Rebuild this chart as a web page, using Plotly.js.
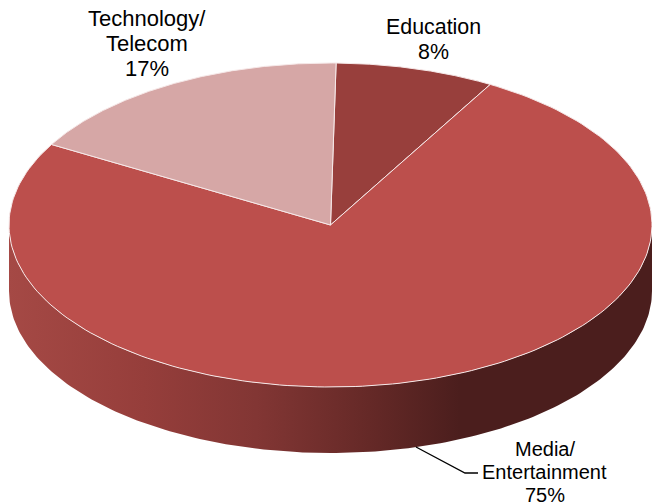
<!DOCTYPE html>
<html>
<head>
<meta charset="utf-8">
<script src="https://cdn.plot.ly/plotly-3.0.1.min.js"></script>
<style>html,body{margin:0;padding:0;background:#fff}#chart{width:652px;height:503px}</style>
</head>
<body>
<div id="chart"></div>
<script>
const categories = ['Education', 'Media/Entertainment', 'Technology/Telecom'];
const shares = [8, 75, 17];
const sliceColors = ['#983F3C', '#BC4F4C', '#D6A7A6'];
const labelLines = [['Education', '8%'], ['Media/', 'Entertainment', '75%'], ['Technology/', 'Telecom', '17%']];

// Projection of the tilted pie, in the axis units of the page
const cx = 330.5, cy = 225, rx = 321.5, ry = 162, depth = 66, firstAngle = 1;
const labelX = [433, 544.5, 147], labelY = [27, 449, 18], lineGap = [25, 23, 25], labelSize = [21.4, 20, 22];
const point = (deg, drop) => {
  const a = deg * Math.PI / 180;
  return [cx + rx * Math.sin(a), cy - ry * Math.cos(a) + (drop || 0)];
};

const total = shares.reduce((s, v) => s + v, 0);
const traces = [];

// Side wall: front half of the rim, extruded down
const wx = [], wy = [];
for (let d = 90; d <= 270; d++) { const p = point(d); wx.push(p[0]); wy.push(p[1]); }
for (let d = 270; d >= 90; d--) { const p = point(d, depth); wx.push(p[0]); wy.push(p[1]); }
traces.push({
  x: wx, y: wy, type: 'scatter', mode: 'lines', fill: 'toself', hoverinfo: 'skip',
  line: {width: 0, color: 'rgba(0,0,0,0)'},
  fillgradient: {
    type: 'horizontal', start: 8, stop: 460,
    colorscale: [[0, '#A54945'], [0.3, '#963E3B'], [0.55, '#823634'], [0.8, '#652927'], [1, '#4B1E1D']]
  }
});

// Top face slices
let running = firstAngle;
shares.forEach((v, i) => {
  const sweep = v / total * 360;
  const xs = [cx], ys = [cy];
  for (let k = 0; k <= 200; k++) {
    const p = point(running + sweep * k / 200);
    xs.push(p[0]); ys.push(p[1]);
  }
  xs.push(cx); ys.push(cy);
  traces.push({
    x: xs, y: ys, type: 'scatter', mode: 'lines', fill: 'toself', name: categories[i],
    fillcolor: sliceColors[i], line: {color: '#F6E8E8', width: 1}, hoverinfo: 'skip'
  });
  running += sweep;
});

// Leader line for the Media label
traces.push({
  x: [416, 465, 478], y: [447, 473, 473], type: 'scatter', mode: 'lines',
  line: {color: '#000', width: 1.3}, hoverinfo: 'skip'
});

const annotations = [];
labelLines.forEach((lines, i) => {
  lines.forEach((t, j) => {
    annotations.push({
      x: labelX[i], y: labelY[i] + j * lineGap[i], xref: 'x', yref: 'y', text: t, showarrow: false,
      xanchor: 'center', yanchor: 'middle', borderpad: 0,
      font: {family: '"Liberation Sans", Arial, sans-serif', size: labelSize[i], color: '#000'}
    });
  });
});

Plotly.newPlot('chart', traces, {
  width: 652, height: 503, margin: {l: 0, r: 0, t: 0, b: 0},
  paper_bgcolor: '#fff', plot_bgcolor: '#fff', showlegend: false,
  xaxis: {range: [0, 652], visible: false, fixedrange: true},
  yaxis: {range: [503, 0], visible: false, fixedrange: true},
  annotations: annotations
}, {displayModeBar: false, staticPlot: true});
</script>
</body>
</html>
